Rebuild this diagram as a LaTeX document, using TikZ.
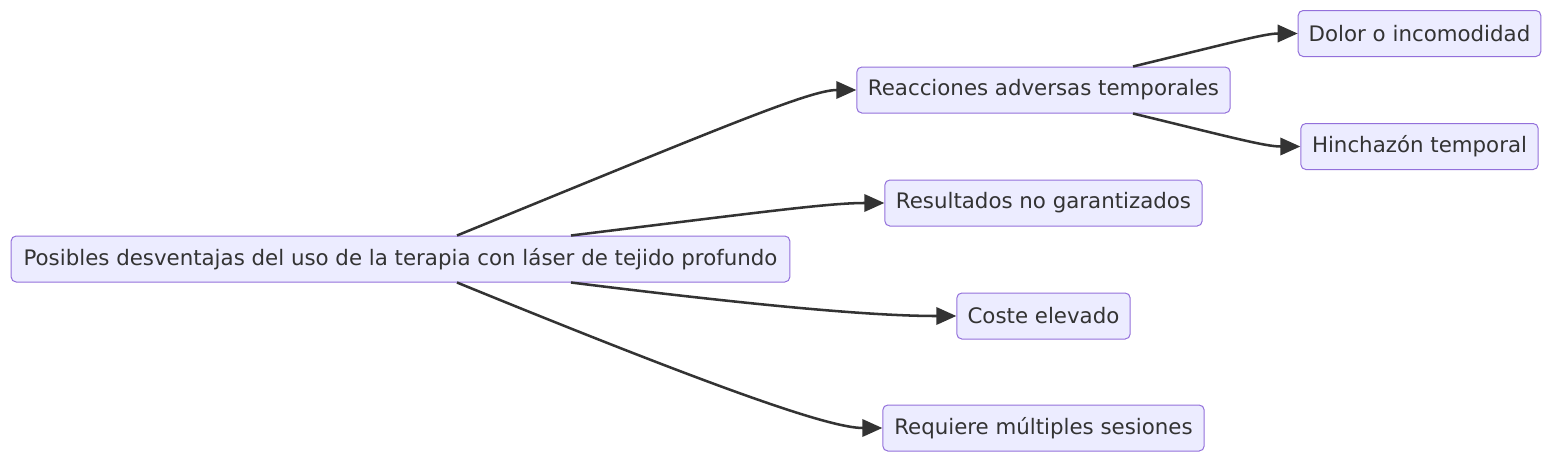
\documentclass[tikz,border=0pt]{standalone}
\usepackage{fontspec}
\setmainfont{DejaVu Sans}
\usepackage{tikz}
\usetikzlibrary{calc}
\usetikzlibrary{arrows.meta}

\definecolor{boxfill}{HTML}{ECECFF}
\definecolor{boxline}{HTML}{9370DB}
\definecolor{ink}{HTML}{333333}

\tikzset{
  mbox/.style={draw=boxline, fill=boxfill, rounded corners=3.75pt, line width=0.75pt,
    text=ink, minimum height=34.5pt, inner xsep=7.5pt, anchor=center,
    font=\fontsize{16}{19}\selectfont},
  link/.style={draw=ink, line width=1.9pt, -{Triangle[length=15pt,width=13pt]}}
}

\begin{document}
\begin{tikzpicture}[x=0.75pt,y=0.75pt,yscale=-1,xscale=1]
\useasboundingbox (0,0) rectangle (1568,468);
\node [mbox, minimum width=584pt] (root) at (400.5,259) {Posibles desventajas del uso de la terapia con láser de tejido profundo};
\node [mbox, minimum width=280pt] (reac) at (1043.5,90) {Reacciones adversas temporales};
\node [mbox, minimum width=238pt] (result) at (1043.5,203) {Resultados no garantizados};
\node [mbox, minimum width=130pt] (coste) at (1043.5,316) {Coste elevado};
\node [mbox, minimum width=241pt] (requiere) at (1043.5,428) {Requiere múltiples sesiones};
\node [mbox, minimum width=182pt] (dolor) at (1419.5,33.5) {Dolor o incomodidad};
\node [mbox, minimum width=178pt] (hinch) at (1419.5,146.5) {Hinchazón temporal};

\draw [link] ($(root.north)+(56.5,0)$) .. controls (720,128) and (810,90) .. (reac.west);
\draw [link] ($(root.north)+(170.5,0)$) .. controls (770,211) and (830,203) .. (result.west);
\draw [link] ($(root.south)+(170.5,0)$) .. controls (800,311) and (890,316) .. (coste.west);
\draw [link] ($(root.south)+(56.5,0)$) .. controls (720,390) and (830,428) .. (requiere.west);
\draw [link] ($(reac.north)+(89.5,0)$) .. controls (1230,43) and (1265,33.5) .. (dolor.west);
\draw [link] ($(reac.south)+(89.5,0)$) .. controls (1230,137) and (1265,146.5) .. (hinch.west);
\end{tikzpicture}
\end{document}
